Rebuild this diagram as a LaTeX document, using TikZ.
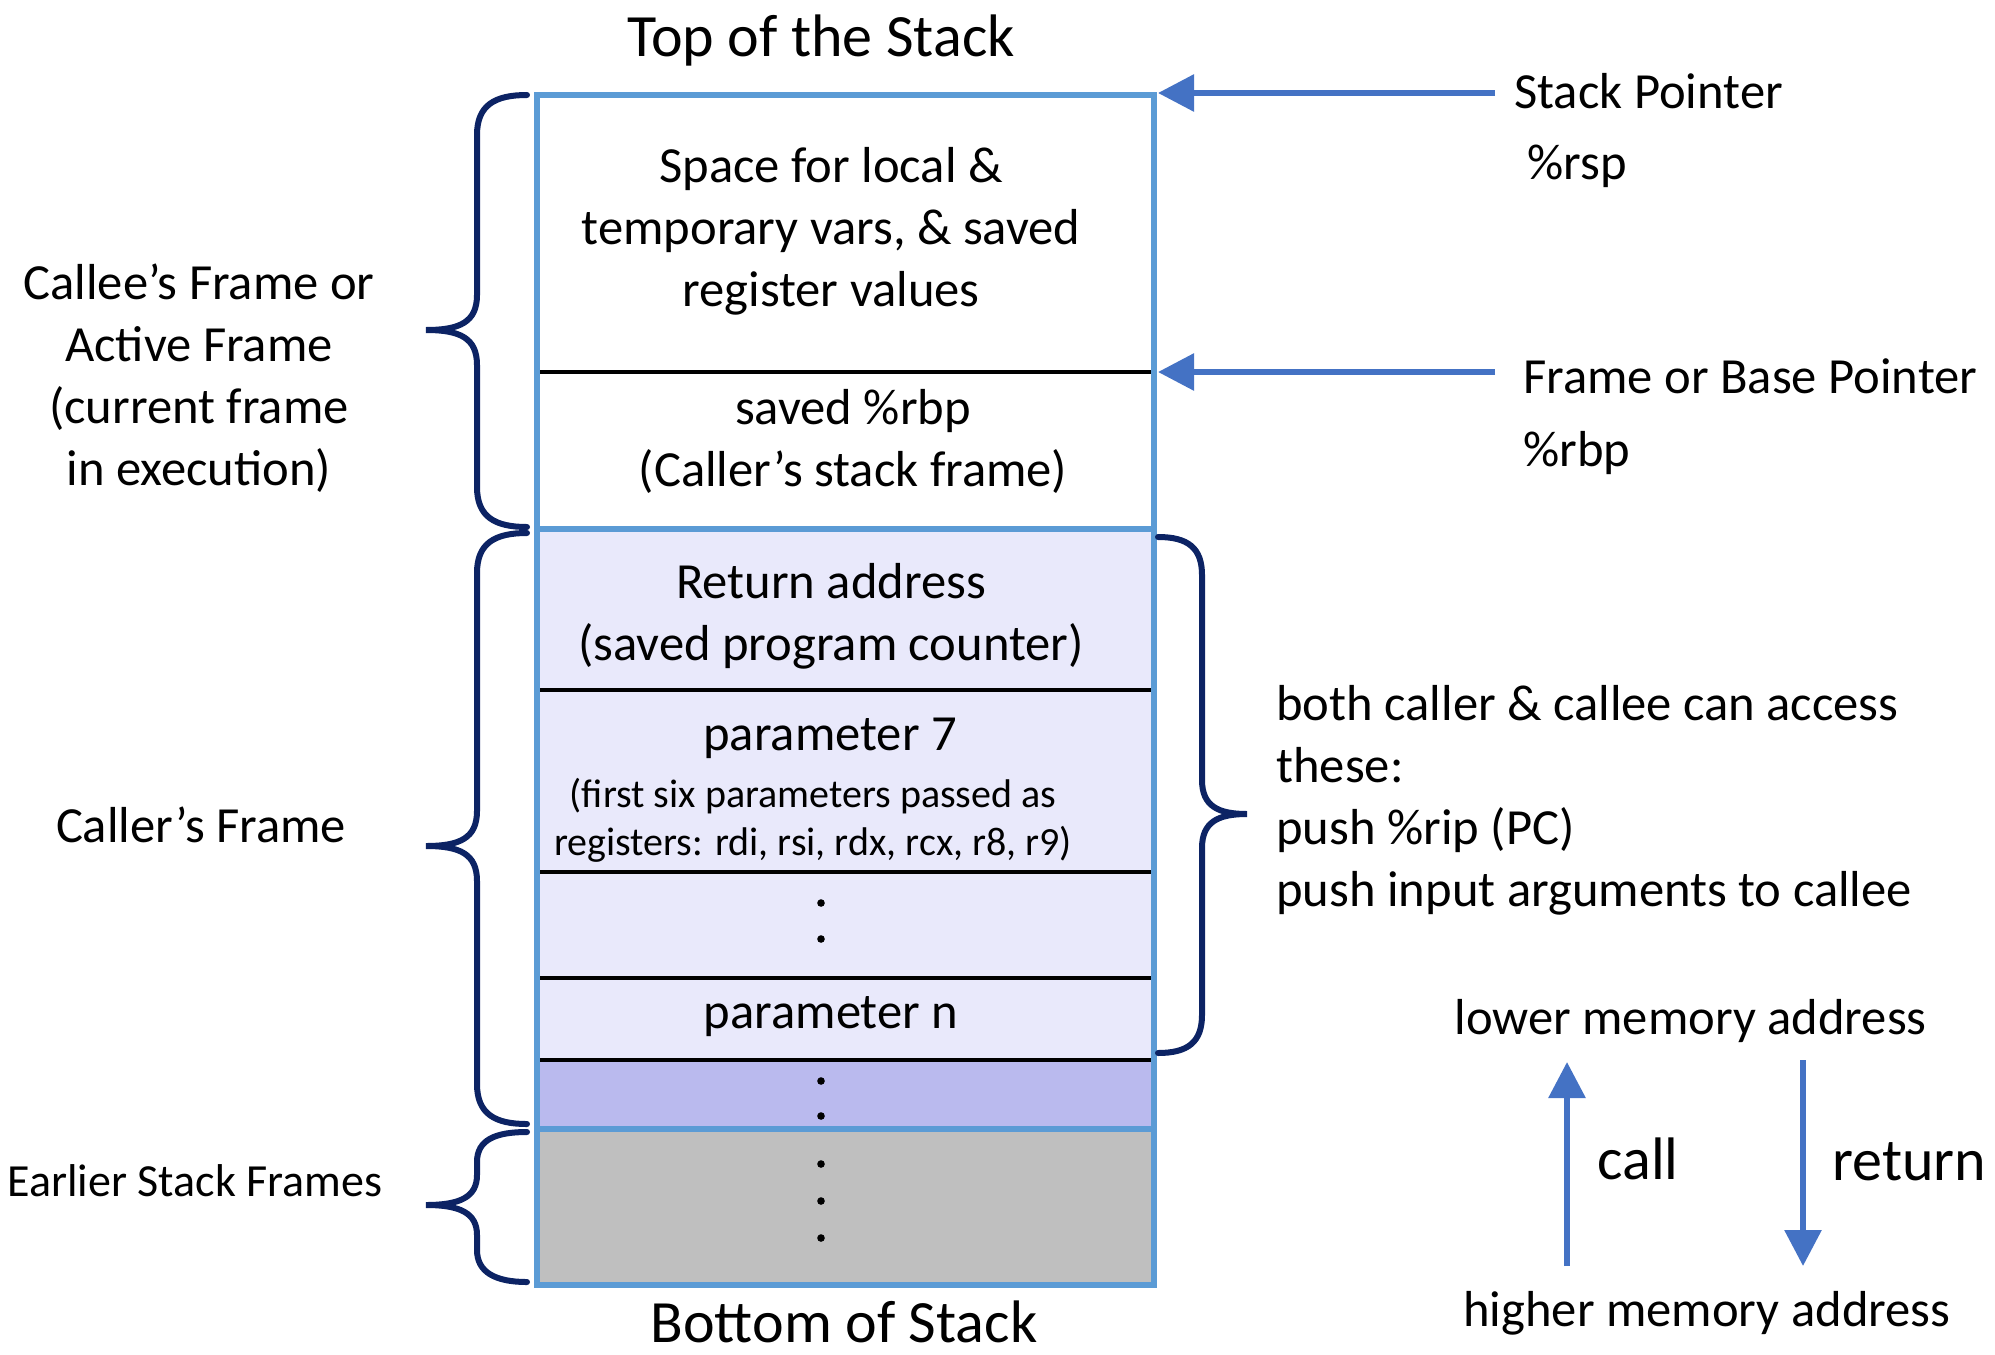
\documentclass[tikz,border=0pt]{standalone}
\usepackage{fontspec}
\setmainfont{Carlito}
\usetikzlibrary{arrows.meta}
\definecolor{boxblue}{RGB}{91,155,213}
\definecolor{arrblue}{RGB}{68,114,196}
\definecolor{bracenavy}{RGB}{12,35,100}
\definecolor{lav}{RGB}{233,233,251}
\definecolor{lavdark}{RGB}{186,186,238}
\definecolor{stackgray}{RGB}{191,191,191}
\begin{document}
\begin{tikzpicture}[x=0.5pt,y=-0.5pt,
  txt/.style={inner sep=0pt, font=\fontsize{25.3}{31}\selectfont, align=center},
  smalltxt/.style={inner sep=0pt, font=\fontsize{20}{24}\selectfont, align=center},
  bigtxt/.style={inner sep=0pt, font=\fontsize{30}{36}\selectfont},
  divider/.style={draw=black, line width=2pt},
  frameline/.style={draw=boxblue, line width=3pt},
  bracestyle/.style={draw=bracenavy, line width=3pt, line cap=round},
  ptr/.style={draw=arrblue, line width=3pt, -{Triangle[length=18pt,width=18pt]}},
  dir/.style={draw=arrblue, line width=3pt, -{Triangle[length=18pt,width=18pt]}},
  dotstyle/.style={fill=black}
]
\useasboundingbox (0,0) rectangle (1995,1354);

% fills
\fill[white] (537,95) rectangle (1154,529);
\fill[lav] (537,529) rectangle (1154,1060);
\fill[lavdark] (537,1060) rectangle (1154,1129);
\fill[stackgray] (537,1129) rectangle (1154,1285);

% black dividers
\draw[divider] (537,372) -- (1154,372);
\draw[divider] (537,690) -- (1154,690);
\draw[divider] (537,872) -- (1154,872);
\draw[divider] (537,978) -- (1154,978);
\draw[divider] (537,1060) -- (1156,1060);

% blue frame lines
\draw[frameline] (537,529) -- (1154,529);
\draw[frameline] (537,1129) -- (1154,1129);
\draw[frameline] (537,95) rectangle (1154,1285);

% dots
\foreach \yy in {903,939,1081,1116,1164,1201,1238}
  \fill[dotstyle] (821,\yy) circle (3.8);

% cell texts
\node[txt] (local) at (831,231) {Space for local \&\\temporary vars, \& saved\\register values};
\node[txt] (savedrbp) at (853,441) {saved \%rbp\\(Caller’s stack frame)};
\node[txt] (retaddr) at (831,616) {Return address\\(saved program counter)};
\node[txt, anchor=base] (param7) at (830,750) {parameter 7};
\node[smalltxt] (firstsix) at (813,820) {(first six parameters passed as\\registers: rdi, rsi, rdx, rcx, r8, r9)};
\node[txt, anchor=base] (paramn) at (831,1028) {parameter n};

% titles
\node[bigtxt, anchor=base] (topstack) at (821,57) {Top of the Stack};
\node[bigtxt, anchor=base] (bottomstack) at (844,1342) {Bottom of Stack};

% pointer labels
\node[txt, anchor=base west] (sp) at (1514,109) {Stack Pointer};
\node[txt, anchor=base west] (rsp) at (1527,179) {\%rsp};
\node[txt, anchor=base west] (fp) at (1523,393) {Frame or Base Pointer};
\node[txt, anchor=base west] (rbp) at (1523,466) {\%rbp};

\coordinate (spTail) at (1495,93);
\coordinate (spHead) at (1158,93);
\coordinate (fpTail) at (1495,372);
\coordinate (fpHead) at (1158,372);
\draw[ptr] (spTail) -- (spHead);
\draw[ptr] (fpTail) -- (fpHead);

% left labels
\node[txt] (callee) at (199,378) {Callee’s Frame or\\Active Frame\\(current frame\\in execution)};
\node[txt, anchor=base] (caller) at (201,842) {Caller’s Frame};
\node[inner sep=0pt, font=\fontsize{23}{28}\selectfont, anchor=base] (earlier) at (195,1196) {Earlier Stack Frames};

% left braces
\draw[bracestyle] (527,95) .. controls (495,95) and (477,105) .. (477,135) -- (477,295)
  .. controls (477,322) and (460,330) .. (426,330)
  .. controls (460,330) and (477,338) .. (477,365) -- (477,487)
  .. controls (477,517) and (495,527) .. (527,527);
\draw[bracestyle] (527,533) .. controls (495,533) and (477,543) .. (477,573) -- (477,811)
  .. controls (477,838) and (460,846) .. (426,846)
  .. controls (460,846) and (477,854) .. (477,881) -- (477,1084)
  .. controls (477,1114) and (495,1124) .. (527,1124);
\draw[bracestyle] (527,1132) .. controls (495,1132) and (477,1140) .. (477,1162) -- (477,1175)
  .. controls (477,1197) and (460,1205) .. (426,1205)
  .. controls (460,1205) and (477,1213) .. (477,1235) -- (477,1250)
  .. controls (477,1272) and (495,1282) .. (527,1282);

% right brace
\draw[bracestyle] (1158,537) .. controls (1188,537) and (1202,548) .. (1202,575) -- (1202,780)
  .. controls (1202,806) and (1218,814) .. (1247,814)
  .. controls (1218,814) and (1202,822) .. (1202,848) -- (1202,1015)
  .. controls (1202,1042) and (1188,1053) .. (1158,1053);

% right description
\node[txt, align=left, anchor=west] (access) at (1276,800) {both caller \& callee can access\\these:\\push \%rip (PC)\\push input arguments to callee};

% memory direction
\node[txt, anchor=base west] (lower) at (1454,1034) {lower memory address};
\node[txt, anchor=base west] (higher) at (1463,1326) {higher memory address};
\coordinate (callFrom) at (1567,1266);
\coordinate (callTo) at (1567,1062);
\coordinate (retFrom) at (1803,1060);
\coordinate (retTo) at (1803,1266);
\draw[dir] (callFrom) -- (callTo);
\draw[dir] (retFrom) -- (retTo);
\node[bigtxt, anchor=base west] (call) at (1597,1179) {call};
\node[bigtxt, anchor=base west] (return) at (1832,1180) {return};
\end{tikzpicture}
\end{document}
